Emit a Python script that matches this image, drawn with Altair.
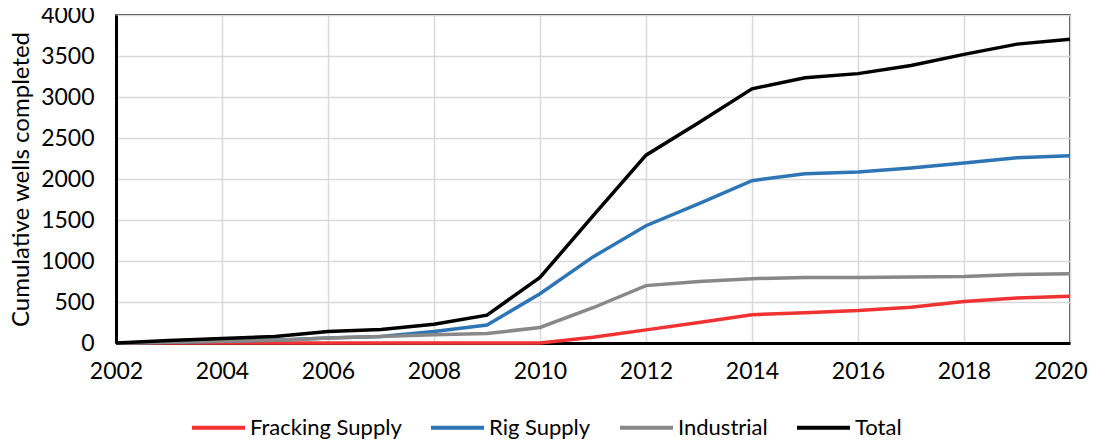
import altair as alt
import pandas as pd

years = list(range(2002, 2021))
fracking = [0, 0, 0, 0, 0, 0, 0, 0, 0, 70, 160, 250, 345, 370, 395, 435, 505, 550, 570]
rig = [0, 10, 20, 35, 60, 80, 140, 220, 600, 1050, 1430, 1700, 1980, 2065, 2085, 2135, 2195, 2260, 2285]
industrial = [0, 10, 20, 35, 60, 80, 100, 115, 190, 430, 700, 750, 785, 800, 800, 805, 810, 835, 845]
total = [0, 30, 55, 80, 140, 165, 230, 340, 800, 1550, 2290, 2690, 3100, 3235, 3285, 3385, 3520, 3645, 3705]

series_names = ["Fracking Supply", "Rig Supply", "Industrial", "Total"]
series_colors = ["#F03232", "#2E75B6", "#888888", "#000000"]
series_values = [fracking, rig, industrial, total]

rows = []
for order, (name, vals) in enumerate(zip(series_names, series_values)):
    for y, v in zip(years, vals):
        rows.append({"Year": y, "Wells": v, "Series": name, "order": order})
df = pd.DataFrame(rows)

FONT = "Lato"
last_year_test = "datum.value === 2020"

chart = alt.Chart(df).mark_line(strokeWidth=3.5).encode(
    x=alt.X("Year:Q",
            scale=alt.Scale(domain=[2002, 2020], nice=False, zero=False),
            axis=alt.Axis(values=list(range(2002, 2021, 2)), format="d", title=None,
                          tickSize=0, labelPadding=17, labelFontSize=23,
                          labelColor="#000", labelFont=FONT,
                          labelAlign={"condition": {"test": last_year_test, "value": "right"}, "value": "center"},
                          labelOffset={"condition": {"test": last_year_test, "value": 17}, "value": 0},
                          domainColor="#000", domainWidth=3,
                          gridColor="#D9D9D9", gridWidth=1.5,
                          labelFlush=False)),
    y=alt.Y("Wells:Q",
            scale=alt.Scale(domain=[0, 4000], nice=False),
            axis=alt.Axis(values=list(range(0, 4001, 500)), format="d",
                          title="Cumulative wells completed",
                          titleFontSize=24, titleFont=FONT, titleFontWeight="normal",
                          titleColor="#000", titlePadding=7,
                          tickSize=0, labelPadding=22, labelFontSize=23,
                          labelColor="#000", labelFont=FONT,
                          domainColor="#000", domainWidth=3,
                          gridColor="#D9D9D9", gridWidth=1.5)),
    color=alt.Color("Series:N",
                    scale=alt.Scale(domain=series_names, range=series_colors),
                    legend=alt.Legend(orient="none", legendX=74, legendY=384,
                                      direction="horizontal", title=None,
                                      symbolType="stroke", symbolSize=2809,
                                      symbolStrokeWidth=4, labelOffset=3,
                                      columnPadding=21, labelFontSize=22,
                                      labelFont=FONT, labelColor="#000",
                                      labelLimit=300)),
    order="order:Q",
    detail="Series:N",
).properties(
    width=954, height=328,
    padding={"left": 108, "top": 7, "right": 18, "bottom": 99},
    autosize=alt.AutoSizeParams(type="none"),
).configure_view(
    stroke="#000", strokeWidth=1.5
)

chart.save("out.html", embed_options={"renderer": "svg", "actions": False})
